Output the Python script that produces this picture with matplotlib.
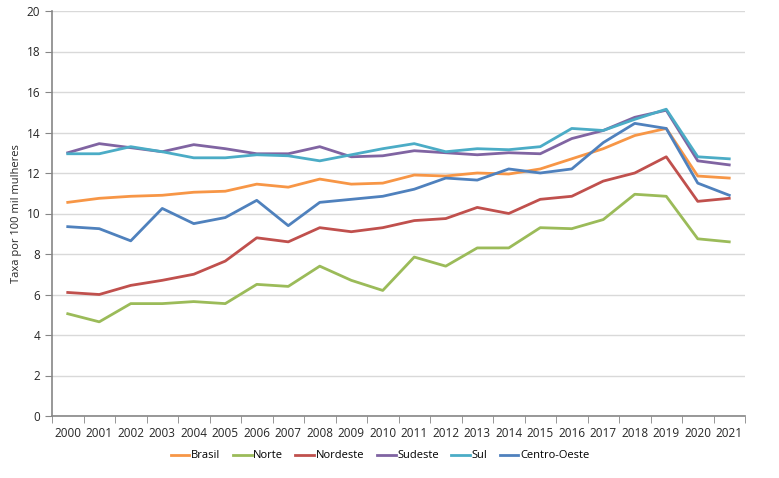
import numpy as np
import matplotlib
matplotlib.use("Agg")
import matplotlib.pyplot as plt

plt.rcParams['font.family'] = ['Open Sans', 'DejaVu Sans']

# ----------------------------------------------------------------------
# data (taxa por 100 mil mulheres)
# ----------------------------------------------------------------------
years = [str(y) for y in range(2000, 2022)]

brasil = [10.55, 10.75, 10.85, 10.9, 11.05, 11.1, 11.45, 11.3, 11.7, 11.45, 11.5,
          11.9, 11.85, 12.0, 11.95, 12.2, 12.7, 13.2, 13.85, 14.2, 11.85, 11.75]
norte = [5.05, 4.65, 5.55, 5.55, 5.65, 5.55, 6.5, 6.4, 7.4, 6.7, 6.2,
         7.85, 7.4, 8.3, 8.3, 9.3, 9.25, 9.7, 10.95, 10.85, 8.75, 8.6]
nordeste = [6.1, 6.0, 6.45, 6.7, 7.0, 7.65, 8.8, 8.6, 9.3, 9.1, 9.3,
            9.65, 9.75, 10.3, 10.0, 10.7, 10.85, 11.6, 12.0, 12.8, 10.6, 10.75]
sudeste = [13.0, 13.45, 13.25, 13.05, 13.4, 13.2, 12.95, 12.95, 13.3, 12.8, 12.85,
           13.1, 13.0, 12.9, 13.0, 12.95, 13.7, 14.1, 14.75, 15.1, 12.6, 12.4]
sul = [12.95, 12.95, 13.3, 13.05, 12.75, 12.75, 12.9, 12.85, 12.6, 12.9, 13.2,
       13.45, 13.05, 13.2, 13.15, 13.3, 14.2, 14.1, 14.65, 15.15, 12.8, 12.7]
centro_oeste = [9.35, 9.25, 8.65, 10.25, 9.5, 9.8, 10.65, 9.4, 10.55, 10.7, 10.85,
                11.2, 11.75, 11.65, 12.2, 12.0, 12.2, 13.5, 14.45, 14.2, 11.5, 10.9]

series = [
    ("Brasil", brasil, "#F79646"),
    ("Norte", norte, "#9BBB59"),
    ("Nordeste", nordeste, "#C0504D"),
    ("Sudeste", sudeste, "#8064A2"),
    ("Sul", sul, "#4BACC6"),
    ("Centro-Oeste", centro_oeste, "#4F81BD"),
]

# ----------------------------------------------------------------------
# plot
# ----------------------------------------------------------------------
fig = plt.figure(figsize=(7.79, 4.78), dpi=100)
ax = fig.add_axes([52 / 779, 62 / 478, 693 / 779, 405 / 478])

x = np.arange(len(years))
for name, vals, color in series:
    ax.plot(x, vals, color=color, lw=2.0, label=name)

ax.set_xlim(-0.5, len(years) - 0.5)
ax.set_ylim(0, 20)
ax.set_yticks(np.arange(0, 21, 2))
ax.set_xticks(x)
ax.set_xticklabels(years)
ax.set_xticks(np.arange(-0.5, len(years), 1), minor=True)
ax.tick_params(axis="x", which="major", length=0, labelsize=8.5, pad=8, colors="#262626")
ax.tick_params(axis="x", which="minor", length=5, color="#868686")
ax.tick_params(axis="y", length=5, color="#868686", labelsize=8.5, colors="#262626")

ax.grid(axis="y", color="#D9D9D9", lw=1)
ax.set_axisbelow(True)
for s in ["top", "right"]:
    ax.spines[s].set_visible(False)
for s in ["left", "bottom"]:
    ax.spines[s].set_color("#868686")
    ax.spines[s].set_linewidth(1.2)

ax.set_ylabel("Taxa por 100 mil mulheres", fontsize=8, color="#262626")
ax.yaxis.set_label_coords(-(52 - 22) / 693, 0.5)

fig.legend(loc="center", bbox_to_anchor=(380 / 779, 1 - 456 / 478), ncol=6,
           frameon=False, fontsize=8, handlelength=1.7, handletextpad=0.15,
           columnspacing=1.1)

fig.savefig("out.png", dpi=100)
